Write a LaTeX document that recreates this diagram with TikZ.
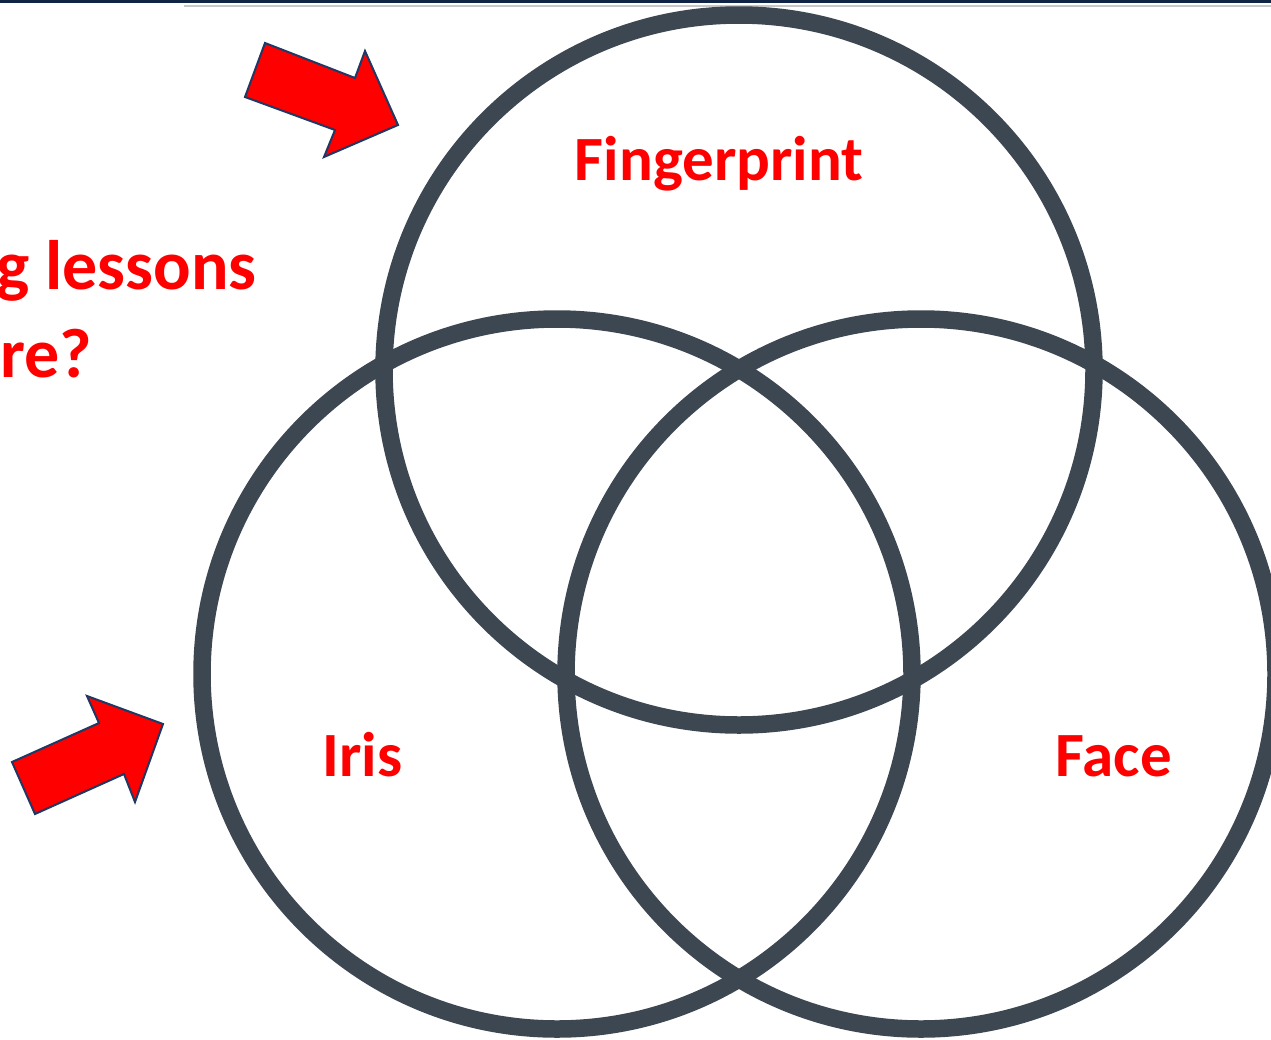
\documentclass[tikz,border=0pt]{standalone}
\usepackage{fontspec}
\setmainfont{Carlito}
\definecolor{ringgray}{RGB}{61,71,81}
\definecolor{navy}{RGB}{16,36,70}
\definecolor{arrowedge}{RGB}{31,56,100}
\definecolor{linegray}{RGB}{200,200,200}
\begin{document}
\begin{tikzpicture}[x=1pt,y=-1pt,
  ring/.style={draw=ringgray,line width=17.5pt},
  lbl/.style={text=red,font=\bfseries\fontsize{63}{70}\selectfont,inner sep=0pt,anchor=base},
  biglbl/.style={text=red,font=\bfseries\fontsize{70}{80}\selectfont,inner sep=0pt,anchor=base east},
  blockarrow/.style={fill=red,draw=arrowedge,line width=2pt,line join=miter}]
\useasboundingbox (0,0) rectangle (1271,1039);
\clip (0,0) rectangle (1271,1039);
\fill[white] (0,0) rectangle (1271,1039);
% top strips
\fill[navy] (0,0) rectangle (1271,2.5);
\draw[linegray,line width=2pt] (184,5.5) -- (1271,5.5);
% rings
\draw[ring] (739,370) circle[radius=355];
\draw[ring] (557,674) circle[radius=355];
\draw[ring] (921,674) circle[radius=355];
% labels
\node[lbl] (fp) at (719,180) {Fingerprint};
\node[lbl] (iris) at (362.5,776) {Iris};
\node[lbl] (face) at (1113.5,776) {Face};
\node[biglbl] (l1) at (257,289) {g lessons};
\node[biglbl] (l2) at (92,377) {re?};
% block arrows
\draw[blockarrow] (265,43) -- (355,78) -- (365,51) -- (398,125) -- (324,157) -- (335,130) -- (245,97) -- cycle;
\draw[blockarrow] (12,762) -- (99,723) -- (87,696) -- (163,724) -- (135,802) -- (124,774) -- (35,814) -- cycle;
\end{tikzpicture}
\end{document}
